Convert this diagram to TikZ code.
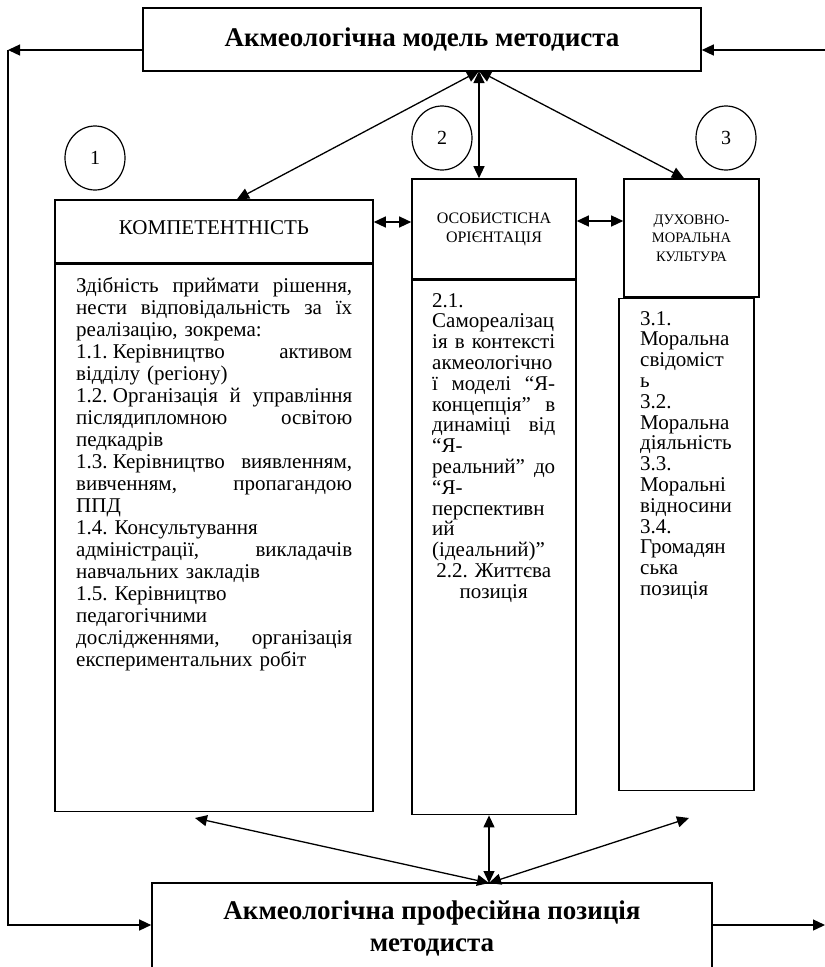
\documentclass[tikz,border=0pt]{standalone}
\usepackage{fontspec}
\setmainfont{Liberation Serif}
\usepackage{tikz}
\usetikzlibrary{arrows.meta,shapes.geometric}
\frenchspacing
\newcommand{\jl}[1]{\leavevmode\hbox to\hsize{\spaceskip=0.25em plus 1fil\relax #1}}% justified line
\newcommand{\cl}[1]{\leavevmode\hbox to\hsize{\hss #1\hss}}% centred line

\begin{document}
\begin{tikzpicture}[x=1pt,y=-1pt,
  box/.style={draw,line width=1.6pt,inner sep=0pt},
  title/.style={font=\fontsize{27}{32}\selectfont\bfseries,align=center},
  bodytext/.style={inner sep=0pt,anchor=base west,align=left},
  num/.style={draw,ellipse,line width=1.2pt,minimum width=60pt,minimum height=64pt,font=\fontsize{20}{22}\selectfont},
  tip/.tip={Triangle[length=12pt,width=11pt]},
  link/.style={line width=1.3pt,tip-tip},
  feed/.style={line width=1.3pt,-tip}]
\useasboundingbox (0,0) rectangle (825,967);
\clip (0,0) rectangle (825,967);
% top and bottom boxes
\node[box,title,minimum width=558pt,minimum height=63pt] (model) at (422,39.5) {Акмеологічна модель методиста};
\node[box,title,minimum width=560pt,minimum height=90pt] (pos) at (432,928) {Акмеологічна професійна позиція\\методиста};
% three columns
\node[box,minimum width=318pt,minimum height=63pt,font=\fontsize{21}{22}\selectfont] (komp) at (214,231.5) {\raisebox{7pt}{КОМПЕТЕНТНІСТЬ}};
\node[box,anchor=north,minimum width=318pt,minimum height=547pt] (kompbody) at (komp.south) {};
\node[box,minimum width=164pt,minimum height=100pt,align=center,font=\fontsize{16}{19}\selectfont] (orient) at (494,229) {ОСОБИСТІСНА\\ОРІЄНТАЦІЯ};
\node[box,anchor=north,minimum width=164pt,minimum height=534pt] (orientbody) at (orient.south) {};
\node[box,minimum width=135pt,minimum height=118pt,align=center,font=\fontsize{14.5}{18.3}\selectfont] (kult) at (691.5,238) {ДУХОВНО-\\МОРАЛЬНА\\КУЛЬТУРА};
\node[box,anchor=north,minimum width=135pt,minimum height=492pt] (kultbody) at ([xshift=-5pt]kult.south) {};
% texts of the columns
\node[bodytext,text width=276pt,font=\fontsize{21}{22}\selectfont] (kompt) at (76,292) {%
\jl{Здібність приймати рішення,}\\
\jl{нести відповідальність за їх}\\
реалізацію, зокрема:\\
\jl{\mbox{1.1. Керівництво} активом}\\
відділу (регіону)\\
\jl{\mbox{1.2. Організація} й управління}\\
\jl{післядипломною освітою}\\
педкадрів\\
\jl{\mbox{1.3. Керівництво} виявленням,}\\
\jl{вивченням, пропагандою}\\
ППД\\
1.4. Консультування\\
\jl{адміністрації, викладачів}\\
навчальних закладів\\
1.5. Керівництво\\
педагогічними\\
\jl{дослідженнями, організація}\\
експериментальних робіт};
\node[bodytext,text width=123pt,font=\fontsize{21}{20.8}\selectfont] (orientt) at (432,307) {%
2.1.\\
Самореалізац\\
\jl{ія в контексті}\\
акмеологічно\\
\jl{ї моделі “Я-}\\
\jl{концепція” в}\\
\jl{динаміці від}\\
“Я-\\
\jl{реальний” до}\\
“Я-\\
перспективн\\
ий\\
(ідеальний)”\\
\cl{2.2. Життєва}\\
\cl{позиція}};
\node[bodytext,text width=108pt,font=\fontsize{21}{20.8}\selectfont] (kultt) at (640,325) {%
3.1.\\
Моральна\\
свідоміст\\
ь\\
3.2.\\
Моральна\\
діяльність\\
3.3.\\
Моральні\\
відносини\\
3.4.\\
Громадян\\
ська\\
позиція};
% numbers
\foreach \n/\x/\y in {1/95/158,2/442/138,3/726/138}
\node[num] (c\n) at (\x,\y) {\n};
% links to the model
\coordinate (hub) at (479,71);
\draw[link] (hub) -- ([xshift=23pt]komp.north);
\draw[link] (hub) -- ([xshift=-15pt]orient.north);
\draw[link] (hub) -- ([xshift=-7.5pt]kult.north);
\draw[link] ([yshift=9.5pt]komp.east) -- ([yshift=7pt]orient.west);
\draw[link] ([yshift=8pt]orient.east) -- ([yshift=17pt]kult.west);
% links to the position
\coordinate (hubb) at (489,883);
\coordinate (lfree) at (195,818);
\coordinate (rfree) at (689,818);
\draw[link] (hubb) -- (lfree);
\draw[link] (hubb) -- ([xshift=-5pt]orientbody.south);
\draw[link] (hubb) -- (rfree);
% feedback lines
\coordinate (lft) at (8,50);
\coordinate (rin) at (825,50);
\coordinate (rout) at (825,925);
\draw[feed] ([yshift=-10.5pt]model.west) -- (lft);
\draw[feed] (lft) |- ([yshift=3pt]pos.west);
\draw[feed] (rin) -- ([yshift=-10.5pt]model.east);
\draw[feed] ([yshift=3pt]pos.east) -- (rout);
\end{tikzpicture}
\end{document}
